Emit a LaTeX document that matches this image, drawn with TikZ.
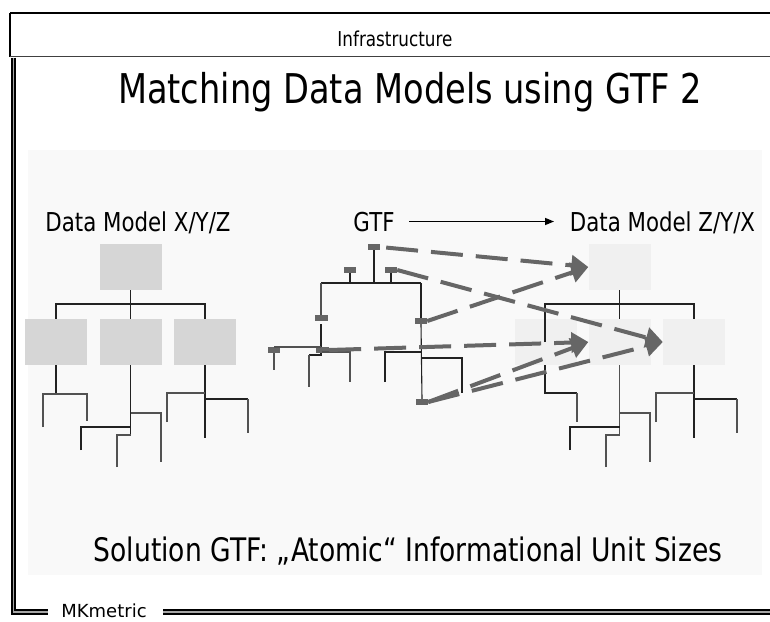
\documentclass[tikz,border=0pt]{standalone}
\usepackage{fontspec}
\usetikzlibrary{arrows.meta}
\newfontfamily\cf{DejaVu Sans}[FakeStretch=0.82]
\newfontfamily\nf{DejaVu Sans}
\definecolor{panelc}{HTML}{F9F9F9}
\definecolor{lboxc}{HTML}{D6D6D6}
\definecolor{rboxc}{HTML}{F0F0F0}
\definecolor{darkc}{HTML}{666666}
\definecolor{linec}{HTML}{222222}
\tikzset{
  lbox/.style={fill=lboxc, draw=none, minimum width=62pt, minimum height=46pt, inner sep=0pt},
  rbox/.style={fill=rboxc, draw=none, minimum width=62pt, minimum height=46pt, inner sep=0pt},
  gmark/.style={fill=darkc, draw=none, minimum width=12pt, minimum height=6pt, inner sep=0pt},
  tl/.style={draw=linec, line width=1.1pt},
  tlg/.style={draw=darkc!80!black, line width=1.1pt},
  darr/.style={draw=darkc, line width=4pt, dash pattern=on 32pt off 13pt, -{Triangle[length=17pt,width=20pt]}},
  txt/.style={inner sep=0pt, anchor=base},
}
\begin{document}
\begin{tikzpicture}[x=1pt,y=-1pt]
\useasboundingbox (0,0) rectangle (770,621);
\fill[white] (0,0) rectangle (770,621);
% panel
\fill[panelc] (28,150) rectangle (762,575);
% header box
\draw[line width=1.3pt, black] (10,13) -- (775,13);
\draw[line width=1.1pt, black] (10,13) -- (10,56.5);
\draw[line width=1.6pt, black!75] (10,56.5) -- (775,56.5);
\node[txt] (hdr) at (395,46) {\cf\fontsize{20.5}{22}\selectfont Infrastructure};
% outer frame
\draw[line width=2pt, double=black!35, double distance=1.2pt] (13.5,57.5) -- (13.5,612) -- (48,612);
\draw[line width=2pt, double=black!35, double distance=1.2pt] (163,612) -- (775,612);
\node[txt] (mk) at (104,617) {\nf\fontsize{18}{20}\selectfont MKmetric};
% title
\node[txt] (title) at (410,103) {\cf\fontsize{41}{45}\selectfont Matching Data Models using GTF 2};
% labels
\node[txt] (lab1) at (138,231) {\cf\fontsize{26}{28}\selectfont Data Model X/Y/Z};
\node[txt] (gtf) at (374,231) {\cf\fontsize{26}{28}\selectfont GTF};
\node[txt] (lab2) at (662.5,231) {\cf\fontsize{26}{28}\selectfont Data Model Z/Y/X};
\coordinate (ga) at (409,221.5);
\coordinate (gb) at (554,221.5);
\draw[line width=1.5pt, black, -{Triangle[length=9pt,width=7pt]}] (ga) -- (gb);
% solution text
\node[txt] (sol) at (408,561) {\cf\fontsize{32.4}{36}\selectfont Solution GTF: „Atomic“ Informational Unit Sizes};

% ---------- left tree ----------
\node[lbox] (L0) at (130.5,267) {};
\node[lbox] (L1) at (56,342) {};
\node[lbox] (L2) at (130.5,342) {};
\node[lbox] (L3) at (205,342) {};
\draw[tl] (L0.south) -- (130.5,304);
\draw[tl] (L1.north) -- (56,304) -- (205,304) -- (L3.north);
\draw[tl] (130.5,304) -- (L2.north);
\draw[tl] (L1.south) -- (56,394);
\draw[tlg] (43,427) -- (43,394) -- (87,394) -- (87,421);
\draw[tl] (L2.south) -- (130.5,435);
\draw[tlg] (130.5,413) -- (161,413) -- (161,462);
\draw[tl] (81,450) -- (81,427) -- (130.5,427);
\draw[tlg] (117,467) -- (117,435) -- (130.5,435);
\draw[tl] (L3.south) -- (205,438);
\draw[tlg] (167,422) -- (167,393) -- (205,393);
\draw[tl] (205,399) -- (248,399);
\draw[tlg] (248,399) -- (248,433);

% ---------- right tree ----------
\begin{scope}[xshift=489pt]
\node[rbox] (R0) at (130.5,267) {};
\node[rbox] (R1) at (57,342) {};
\node[rbox] (R2) at (130.5,342) {};
\node[rbox] (R3) at (205,342) {};
\draw[tl] (R0.south) -- (130.5,304);
\draw[tl] (56,342) -- (56,304) -- (205,304) -- (R3.north);
\draw[tl] (130.5,304) -- (R2.north);
\draw[tl] (56,365) -- (56,393) -- (88,393);
\draw[tlg] (88,393) -- (88,422);
\draw[tlg] (R2.south) -- (130.5,435);
\draw[tlg] (130.5,413) -- (161,413) -- (161,462);
\draw[tl] (81,450) -- (81,427) -- (130.5,427);
\draw[tlg] (117,467) -- (117,435) -- (130.5,435);
\draw[tl] (R3.south) -- (205,438);
\draw[tlg] (167,422) -- (167,393) -- (205,393);
\draw[tl] (205,399) -- (248,399);
\draw[tlg] (248,399) -- (248,433);
\end{scope}

% ---------- GTF tree ----------
\node[gmark] (g0) at (374,247) {};
\node[gmark] (gL) at (350,270) {};
\node[gmark] (gR) at (391,270) {};
\node[gmark, minimum width=13pt] (gM1) at (321.5,318) {};
\node[gmark] (gM2) at (421,321) {};
\node[gmark] (gLL) at (274,350) {};
\node[gmark, minimum width=13pt] (gLm) at (322.5,350) {};
\node[gmark] (gB) at (422,402) {};
\draw[tl] (g0.south) -- (374,283);
\draw[tl] (gL.south) -- (350,283);
\draw[tl] (gR.south) -- (391,283);
\draw[tl] (321,283) -- (421,283);
\draw[tlg] (321,283) -- (gM1.north -| 321,0);
\draw[linec, line width=2pt] (321,324) -- (321,347);
\draw[tl] (421,283) -- (gM2.north);
\draw[tl] (gM2.south) -- (gB.north);
\draw[tlg] (274,347) -- (321,347);
\draw[tlg] (gLL.south) -- (274,370);
\draw[tl] (321,353) -- (321,355) -- (309,355);
\draw[tlg] (309,355) -- (309,387);
\draw[tlg] (322,352) -- (350,352) -- (350,382);
\draw[tl] (385,382) -- (385,352) -- (421,352);
\draw[tl] (421,358) -- (462,358) -- (462,393);

% ---------- dashed arrows ----------
\draw[darr, dash phase=-6pt] (g0.east) -- (R0.west);
\draw[darr] (gR.east) -- (R3.west);
\draw[darr] (gM2.east) -- (R0.west);
\draw[darr] (gLm.east) -- (R2.west);
\draw[darr] (gB.east) -- (R2.west);
\draw[darr] (gB.east) -- (R3.west);
\end{tikzpicture}
\end{document}
